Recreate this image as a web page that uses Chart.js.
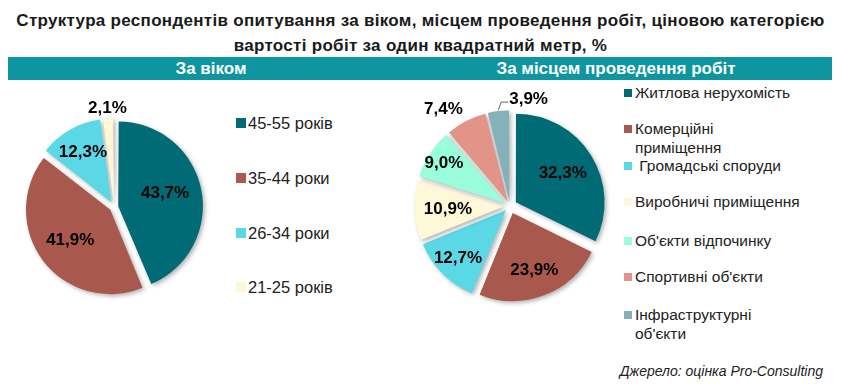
<!DOCTYPE html>
<html>
<head>
<meta charset="utf-8">
<script src="https://cdn.jsdelivr.net/npm/chart.js@4.4.1/dist/chart.umd.min.js"></script>
<style>
  body { margin: 0; background: #fff; }
  #wrap { position: relative; width: 841px; height: 392px; overflow: hidden; font-family: 'Liberation Sans', Arial, sans-serif; }
  #title { position: absolute; left: 0; top: 8px; width: 841px; text-align: center; font-weight: bold; font-size: 17px; letter-spacing: 0.3px; line-height: 25px; color: #1a1a1a; }
  #bar { position: absolute; left: 8px; top: 57px; width: 824px; height: 23px; background: #0d95a0; }
  .head { position: absolute; top: 57px; height: 23px; line-height: 23px; color: #fff; font-weight: bold; font-size: 17px; transform: translateX(-50%); white-space: nowrap; }
  canvas { position: absolute; }
  .leg { position: absolute; white-space: nowrap; }
  .leg i { position: absolute; left: 0; display: block; }
  #source { position: absolute; right: 18px; top: 363px; font-style: italic; font-size: 14px; color: #222; }
</style>
</head>
<body>
<div id="wrap">
  <div id="title">Структура респондентів опитування за віком, місцем проведення робіт, ціновою категорією<br>вартості робіт за один квадратний метр, %</div>
  <div id="bar"></div>
  <div class="head" style="left:211px">За віком</div>
  <div class="head" style="left:616px">За місцем проведення робіт</div>
  <canvas id="agePie" width="228" height="230" style="left:0px; top:92px; width:228px; height:230px"></canvas>
  <canvas id="placePie" width="220" height="240" style="left:400px; top:86px; width:220px; height:240px"></canvas>
  <div id="ageLegend"></div>
  <div id="placeLegend"></div>
  <div id="source">Джерело: оцінка Pro-Consulting</div>
</div>
<script>
// data
const ageLabels = ['45-55 років', '35-44 роки', '26-34 роки', '21-25 років'];
const ageValues = [43.7, 41.9, 12.3, 2.1];
const ageColors = ['#006b74', '#a9584e', '#5ad8e6', '#fff8d8'];

const placeLabels = ['Житлова нерухомість', 'Комерційні\nприміщення', ' Громадські споруди', 'Виробничі приміщення',
    "Об'єкти відпочинку", "Спортивні об'єкти", "Інфраструктурні\nоб'єкти"];
const placeValues = [32.3, 23.9, 12.7, 10.9, 9.0, 7.4, 3.9];
const placeColors = ['#006b74', '#a9584e', '#5ad8e6', '#fff8d8', '#99fddb', '#e29488', '#85b1ba'];

// label placement: [radial factor, nudge x, nudge y, leader]
const ageLabelPos = [[0.55, 0, -3], [0.585, 0, 0], [0.68, 0, 0], [1.12, 0, 0]];
const placeLabelPos = [[0.62, 0, 0], [0.69, 0, 0], [0.75, 0, 0], [0.62, 0, 0], [0.81, 0, 0], [1.19, -15, 3], [0, 0, 0, true]];

const fmt = v => v.toFixed(1).replace('.', ',') + '%';

// Chart.js moves a slice by offset/4*(1+fix); solve for a wanted shift in px
const offsetFor = (shift) => (ctx) => {
    const vals = ctx.dataset.data;
    const total = vals.reduce((a, b) => a + b, 0);
    const circ = vals[ctx.dataIndex] / total * Math.PI * 2;
    const fix = 1 - Math.sin(Math.min(Math.PI, circ));
    return 4 * shift / (1 + fix);
};

const shadowPlugin = {
    id: 'sliceShadow',
    beforeDatasetDraw(chart) {
        const ctx = chart.ctx;
        ctx.save();
        ctx.shadowColor = 'rgba(0,0,0,0.3)';
        ctx.shadowBlur = 4;
        ctx.shadowOffsetX = 2;
        ctx.shadowOffsetY = 2;
    },
    afterDatasetDraw(chart) {
        chart.ctx.restore();
    }
};

const valueLabels = {
    id: 'valueLabels',
    afterDatasetsDraw(chart, args, opts) {
        const ctx = chart.ctx;
        const meta = chart.getDatasetMeta(0);
        const vals = chart.data.datasets[0].data;
        ctx.save();
        ctx.font = 'bold 17px "Liberation Sans", Arial, sans-serif';
        ctx.fillStyle = '#000';
        ctx.textBaseline = 'middle';
        meta.data.forEach((arc, i) => {
            const p = opts.pos[i];
            const mid = (arc.startAngle + arc.endAngle) / 2;
            const cx = Math.cos(mid), cy = Math.sin(mid);
            if (p[3]) {
                const d = arc.outerRadius + opts.shift + 1;
                const sx = arc.x + cx * d, sy = arc.y + cy * d;
                ctx.strokeStyle = '#666';
                ctx.lineWidth = 1;
                ctx.beginPath();
                ctx.moveTo(sx, sy);
                ctx.lineTo(sx + 3, sy - 8);
                ctx.lineTo(sx + 10, sy - 8);
                ctx.stroke();
                ctx.textAlign = 'left';
                ctx.fillText(fmt(vals[i]), sx + 11, sy - 11);
                return;
            }
            const d = opts.shift + arc.outerRadius * p[0];
            ctx.textAlign = 'center';
            ctx.fillText(fmt(vals[i]), arc.x + cx * d + p[1], arc.y + cy * d + p[2]);
        });
        ctx.restore();
    }
};

function makePie(id, labels, values, colors, radius, shift, pos) {
    return new Chart(document.getElementById(id), {
        type: 'pie',
        data: {
            labels: labels,
            datasets: [{
                data: values,
                backgroundColor: colors,
                borderWidth: 0,
                offset: offsetFor(shift)
            }]
        },
        options: {
            responsive: false,
            animation: false,
            radius: radius,
            layout: { padding: 0 },
            plugins: {
                legend: { display: false },
                tooltip: { enabled: false },
                valueLabels: { shift: shift, pos: pos }
            }
        },
        plugins: [shadowPlugin, valueLabels]
    });
}

makePie('agePie', ageLabels, ageValues, ageColors, 82, 7, ageLabelPos);
makePie('placePie', placeLabels, placeValues, placeColors, 88, 7.6, placeLabelPos);

// html legends
function buildLegend(el, labels, colors, tops, cfg) {
    labels.forEach((txt, i) => {
        const item = document.createElement('div');
        item.className = 'leg';
        item.style.left = cfg.left + 'px';
        item.style.top = tops[i] + 'px';
        item.style.paddingLeft = cfg.indent + 'px';
        item.style.fontSize = cfg.size + 'px';
        item.style.lineHeight = cfg.line + 'px';
        item.style.color = cfg.color;
        const box = document.createElement('i');
        box.style.width = cfg.box + 'px';
        box.style.height = cfg.box + 'px';
        box.style.top = ((cfg.line - cfg.box) / 2) + 'px';
        box.style.background = colors[i];
        item.appendChild(box);
        const span = document.createElement('span');
        span.style.whiteSpace = 'pre';
        span.textContent = txt;
        item.appendChild(span);
        el.appendChild(item);
    });
}

buildLegend(document.getElementById('ageLegend'), ageLabels, ageColors, [112, 167, 222, 276],
    { left: 236, indent: 12, size: 16.5, line: 22, color: '#222', box: 10 });
buildLegend(document.getElementById('placeLegend'), placeLabels, placeColors, [83, 119, 156, 192, 231, 267, 305],
    { left: 624, indent: 11, size: 15.5, line: 19, color: '#222', box: 8 });
</script>
</body>
</html>
